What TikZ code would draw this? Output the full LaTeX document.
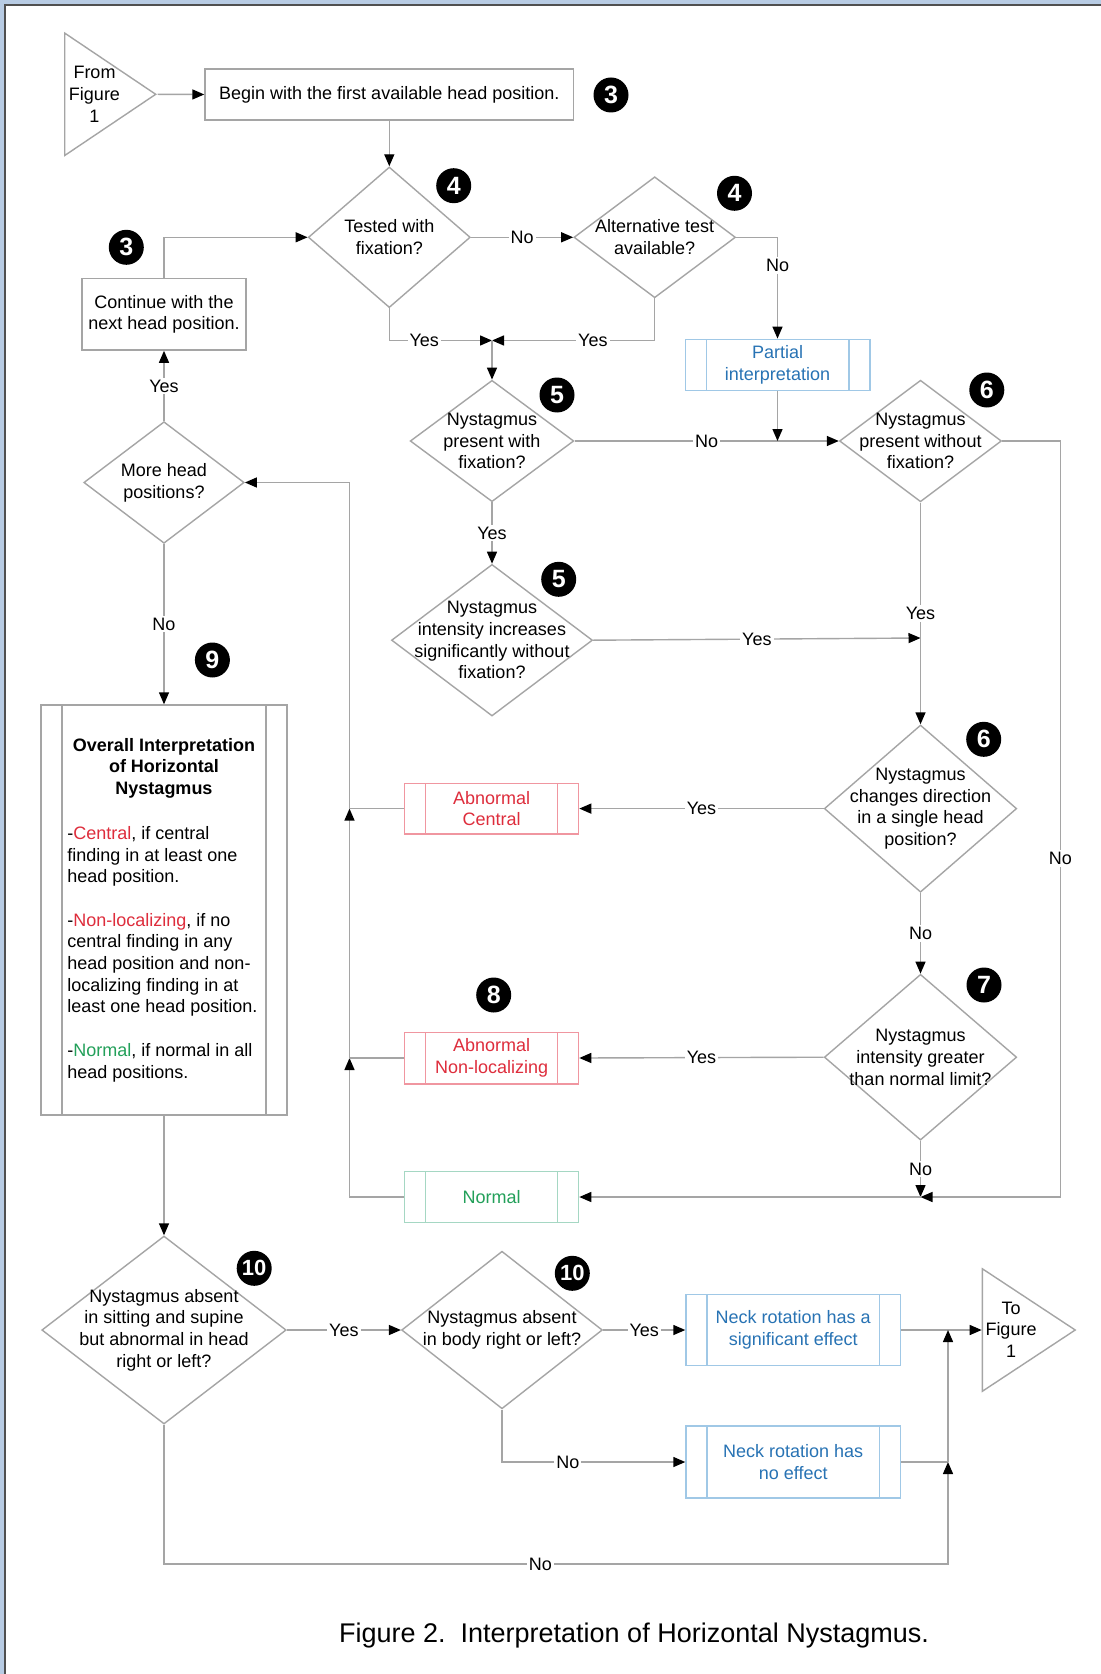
\documentclass[tikz,border=0pt]{standalone}
\usepackage{fontspec}
\setmainfont{Liberation Sans}
\usetikzlibrary{shapes.geometric,arrows.meta}
\definecolor{linegray}{RGB}{165,165,165}
\definecolor{framebg}{RGB}{184,204,228}
\definecolor{framedark}{RGB}{80,80,80}
\definecolor{abred}{RGB}{222,45,60}
\definecolor{abredline}{RGB}{240,150,160}
\definecolor{partblue}{RGB}{40,115,180}
\definecolor{partline}{RGB}{160,200,230}
\definecolor{normgreen}{RGB}{35,160,90}
\definecolor{normline}{RGB}{165,215,195}
\begin{document}
\begin{tikzpicture}[x=0.5pt, y=-0.5pt,
    every node/.style={font=\fontsize{9}{10.85}\selectfont},
    flow/.style={draw=linegray, line width=0.7pt},
    arr/.style={flow, -{Triangle[length=6pt, width=5pt, color=black]}},
    decision/.style={diamond, draw=linegray, line width=0.7pt, inner sep=0pt},
    plainbox/.style={rectangle, draw=linegray, line width=0.7pt, inner sep=0pt, align=center},
    procbox/.style={rectangle, draw=#1, line width=0.7pt, inner sep=0pt, align=center,
      path picture={\draw[#1, line width=0.7pt]
        ([xshift=10.5pt]path picture bounding box.north west) -- ([xshift=10.5pt]path picture bounding box.south west)
        ([xshift=-10.5pt]path picture bounding box.north east) -- ([xshift=-10.5pt]path picture bounding box.south east);}},
    terminal/.style={isosceles triangle, isosceles triangle stretches, draw=linegray, line width=0.7pt, inner sep=0pt},
    badge/.style={circle, fill=black, text=white, inner sep=0pt, minimum size=17.5pt, font=\fontsize{12.5}{12.5}\selectfont\bfseries},
    lbl/.style={fill=white, inner sep=1pt}]
   \useasboundingbox (0,0) rectangle (1101,1674);
   \fill[framebg] (0,0) rectangle (1101,1674);
   \fill[white] (5,5) rectangle (1101,1674);
   \draw[framedark, line width=1.2pt] (5,1674) -- (5,5) -- (1101,5);

   \node[terminal, minimum height=45.5pt, minimum width=61.2pt, anchor=west] (fromfig) at (64,94.3) {};
   \node[align=center] (fromtext) at (94.5,94.3) {From\\Figure\\1};
   \node[plainbox, minimum width=184.3pt, minimum height=25.5pt] (begin) at (389.3,94.5) {Begin with the first available head position.};
   \node[badge] (n3a) at (611,95) {3};

   \node[decision, minimum width=81pt, minimum height=70.3pt, label={[align=center]center:Tested with\\fixation?}] (tested) at (389.3,237.3) {};
   \node[badge] (n4a) at (453.7,185.7) {4};
   \node[decision, minimum width=80.8pt, minimum height=60.5pt, label={[align=center]center:Alternative test\\available?}] (alt) at (654.7,237.3) {};
   \node[badge] (n4b) at (734.5,193.3) {4};
   \node[procbox=partline, text=partblue, minimum width=92.3pt, minimum height=25.7pt] (partial) at (777.5,365) {Partial\\interpretation};
   \node[plainbox, minimum width=81.9pt, minimum height=35.9pt] (cont) at (164,314.2) {Continue with the\\next head position.};
   \node[badge] (n3b) at (126.3,247.3) {3};
   \node[decision, minimum width=80.2pt, minimum height=60.8pt, label={[align=center]center:More head\\positions?}] (more) at (164,482.5) {};

   \node[decision, minimum width=81.8pt, minimum height=60.7pt, label={[align=center]center:Nystagmus\\present with\\fixation?}] (pres) at (492,441) {};
   \node[badge] (n5a) at (557,395) {5};
   \node[decision, minimum width=81pt, minimum height=60.8pt, label={[align=center]center:Nystagmus\\present without\\fixation?}] (presno) at (920.5,441) {};
   \node[badge] (n6a) at (986.8,390) {6};
   \node[decision, minimum width=100.5pt, minimum height=75.8pt, label={[align=center]center:Nystagmus\\intensity increases\\significantly without\\fixation?}] (inten) at (492,640.2) {};
   \node[badge] (n5b) at (558.7,579.3) {5};
   \node[decision, minimum width=96.2pt, minimum height=83.6pt, label={[align=center]center:Nystagmus\\changes direction\\in a single head\\position?}] (change) at (920.5,808.6) {};
   \node[badge] (n6b) at (983.7,739.3) {6};
   \node[decision, minimum width=96.2pt, minimum height=82.9pt, label={[align=center]center:Nystagmus\\intensity greater\\than normal limit?}] (greater) at (920.5,1057.2) {};
   \node[badge] (n7) at (984,985) {7};

   \node[procbox=abredline, text=abred, minimum width=87pt, minimum height=25.4pt] (central) at (491.6,808.6) {Abnormal\\Central};
   \node[badge] (n8) at (493.7,995) {8};
   \node[procbox=abredline, text=abred, minimum width=87pt, minimum height=25.8pt] (nonloc) at (491.6,1058) {Abnormal\\Non-localizing};
   \node[procbox=normline, text=normgreen, minimum width=87pt, minimum height=25.5pt] (normal) at (491.6,1197) {Normal};

   \node[badge] (n9) at (212.4,660) {9};
   \node[procbox=linegray, minimum width=122.9pt, minimum height=205pt] (overall) at (164,910) {};
   \node[align=center, font=\fontsize{9}{10.85}\selectfont\bfseries] (overallhead) at (164,768.3) {Overall Interpretation\\of Horizontal\\Nystagmus};
   \node[align=left, anchor=west, inner sep=0pt] (overallbody) at (67,954) {-\textcolor{abred}{Central}, if central\\finding in at least one\\head position.\\[10.85pt]-\textcolor{abred}{Non-localizing}, if no\\central finding in any\\head position and non-\\localizing finding in at\\least one head position.\\[10.85pt]-\textcolor{normgreen}{Normal}, if normal in all\\head positions.};

   \node[decision, minimum width=122.2pt, minimum height=94pt, label={[align=center]center:Nystagmus absent\\in sitting and supine\\but abnormal in head\\right or left?}] (tenA) at (164,1330) {};
   \node[badge, font=\fontsize{11}{11}\selectfont\bfseries] (n10a) at (254.2,1268.3) {10};
   \node[decision, minimum width=100.4pt, minimum height=78.8pt, label={[align=center]center:Nystagmus absent\\in body right or left?}] (tenB) at (502,1330) {};
   \node[badge, font=\fontsize{11}{11}\selectfont\bfseries] (n10b) at (572.3,1273.3) {10};
   \node[procbox=partline, text=partblue, minimum width=107.2pt, minimum height=35.5pt] (sig) at (793.2,1330) {Neck rotation has a\\significant effect};
   \node[procbox=partline, text=partblue, minimum width=107.2pt, minimum height=35.9pt] (noeff) at (793.2,1462) {Neck rotation has\\no effect};
   \node[terminal, minimum height=46.4pt, minimum width=61.2pt, anchor=west] (tofig) at (981.7,1330) {};
   \node[align=center] (totext) at (1011,1329.5) {To\\Figure\\1};

   \node[font=\fontsize{13.5}{16}\selectfont] (caption) at (634,1635) {Figure 2.\ \ Interpretation of Horizontal Nystagmus.};

   \coordinate (jtest) at (492,340.5);
   \coordinate (jpart) at (777.5,441);
   \coordinate (jyes) at (920.5,638);
   \coordinate (jnorm) at (920.5,1197);
   \coordinate (rcorner) at (1060.4,1197);
   \coordinate (jcen) at (349.5,808.6);
   \coordinate (jnon) at (349.5,1058);
   \coordinate (jtop) at (349.5,482.5);
   \coordinate (jsig) at (948,1330);
   \coordinate (jnoeff) at (948,1462);
   \coordinate (jlow) at (948,1564);

   \draw[arr] (fromfig.apex) -- (begin.west);
   \draw[arr] (begin.south) -- (tested.north);
   \draw[arr] (tested.east) -- node[lbl] {No} (alt.west);
   \draw[arr] (alt.east) -| node[lbl, pos=0.64] {No} (partial.north);
   \draw[arr] (tested.south) |- node[lbl, pos=0.67] {Yes} (jtest);
   \draw[arr] (alt.south) |- node[lbl, pos=0.69] {Yes} (jtest);
   \draw[arr] (jtest) -- (pres.north);
   \draw[arr] (pres.east) -- node[lbl] {No} (presno.west);
   \draw[arr] (partial.south) -- (jpart);
   \draw[arr] (presno.east) -| node[lbl, pos=0.776] {No} (rcorner) -- (jnorm);
   \draw[arr] (pres.south) -- node[lbl] {Yes} (inten.north);
   \draw[arr] (inten.east) -- node[lbl] {Yes} (jyes);
   \draw[arr] (presno.south) -- node[lbl] {Yes} (change.north);
   \draw[arr] (change.west) -- node[lbl] {Yes} (central.east);
   \draw[arr] (change.south) -- node[lbl] {No} (greater.north);
   \draw[arr] (greater.west) -- node[lbl] {Yes} (nonloc.east);
   \draw[arr] (greater.south) -- node[lbl] {No} (jnorm);
   \draw[arr] (jnorm) -- (normal.east);
   \draw[arr] (normal.west) -| (jnon);
   \draw[arr] (nonloc.west) -| (jcen);
   \draw[arr] (central.west) -| (jtop) -- (more.east);
   \draw[arr] (more.north) -- node[lbl] {Yes} (cont.south);
   \draw[arr] (cont.north) |- (tested.west);
   \draw[arr] (more.south) -- node[lbl] {No} (overall.north);
   \draw[arr] (overall.south) -- (tenA.north);
   \draw[arr] (tenA.east) -- node[lbl] {Yes} (tenB.west);
   \draw[arr] (tenB.east) -- node[lbl] {Yes} (sig.west);
   \draw[arr] (sig.east) -- (tofig.west);
   \draw[arr] (tenB.south) |- node[lbl, pos=0.68] {No} (noeff.west);
   \draw[flow] (noeff.east) -- (jnoeff);
   \draw[arr] (tenA.south) |- node[lbl, pos=0.74] {No} (jlow) -- (jnoeff);
   \draw[arr] (jnoeff) -- (jsig);
\end{tikzpicture}
\end{document}
